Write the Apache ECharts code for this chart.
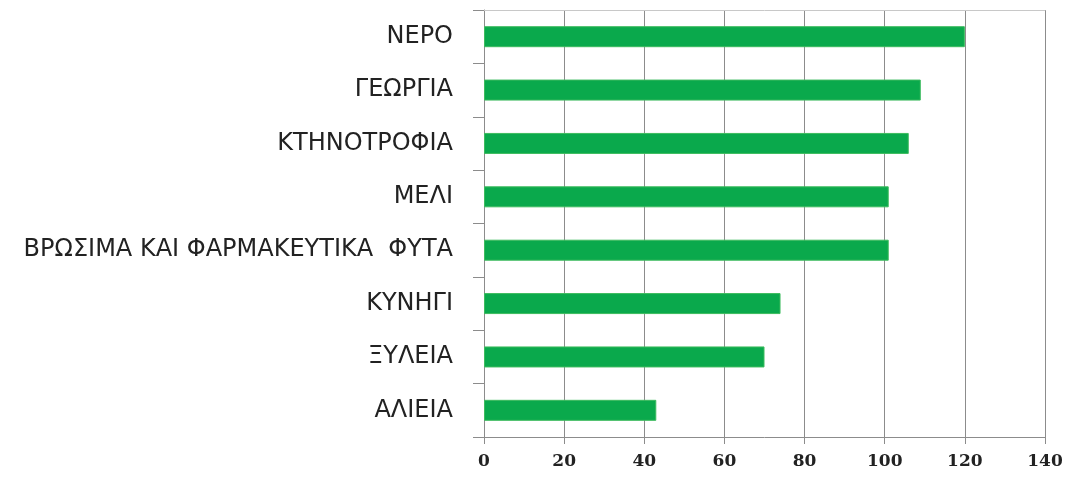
<!DOCTYPE html>
<html>
<head>
<meta charset="utf-8">
<script src="https://cdn.jsdelivr.net/npm/echarts@6/dist/echarts.min.js"></script>
<style>
  html, body { margin: 0; padding: 0; background: #fff; }
  #chart { width: 1069px; height: 478px; }
</style>
</head>
<body>
<div id="chart"></div>
<script>
// categories, top to bottom as drawn
const categories = ['ΝΕΡΟ', 'ΓΕΩΡΓΙΑ', 'ΚΤΗΝΟΤΡΟΦΙΑ', 'ΜΕΛΙ', 'ΒΡΩΣΙΜΑ ΚΑΙ ΦΑΡΜΑΚΕΥΤΙΚΑ  ΦΥΤΑ', 'ΚΥΝΗΓΙ', 'ΞΥΛΕΙΑ', 'ΑΛΙΕΙΑ']
const values = [120, 109, 106, 101, 101, 74, 70, 43]
const xTicks = [0, 20, 40, 60, 80, 100, 120, 140]

const chart = echarts.init(document.getElementById('chart'))

chart.setOption({
  animation: false,
  backgroundColor: '#fff',
  grid: {
    left: 484,
    right: 24,
    top: 10,
    bottom: 41,
    containLabel: false
  },
  xAxis: [
    {
      type: 'value',
      min: xTicks[0],
      max: xTicks[xTicks.length - 1],
      interval: xTicks[1] - xTicks[0],
      axisLine: { show: true, lineStyle: { color: '#8c8c8c', width: 1 } },
      axisTick: { show: true, length: 7, lineStyle: { color: '#8c8c8c' } },
      splitLine: { show: true, lineStyle: { color: '#8c8c8c', width: 1 } },
      axisLabel: {
        color: '#222',
        fontFamily: 'DejaVu Serif',
        fontWeight: 'bold',
        fontSize: 17,
        margin: 16
      }
    },
    {
      // thin top border of the plot area
      type: 'value',
      position: 'top',
      min: xTicks[0],
      max: xTicks[xTicks.length - 1],
      axisLine: { show: true, lineStyle: { color: '#c8c8c8' } },
      axisTick: { show: false },
      axisLabel: { show: false },
      splitLine: { show: false }
    }
  ],
  yAxis: {
    type: 'category',
    inverse: true,
    data: categories,
    axisLine: { show: true, lineStyle: { color: '#8c8c8c' } },
    axisTick: { show: true, length: 11, lineStyle: { color: '#8c8c8c' } },
    axisLabel: {
      color: '#222',
      fontFamily: 'DejaVu Sans',
      fontSize: 24,
      margin: 31
    }
  },
  series: [
    {
      type: 'bar',
      data: values,
      barWidth: 21,
      itemStyle: {
        color: '#0aa94c',
        borderColor: '#3dbb5e',
        borderWidth: 1
      }
    }
  ]
})
</script>
</body>
</html>
